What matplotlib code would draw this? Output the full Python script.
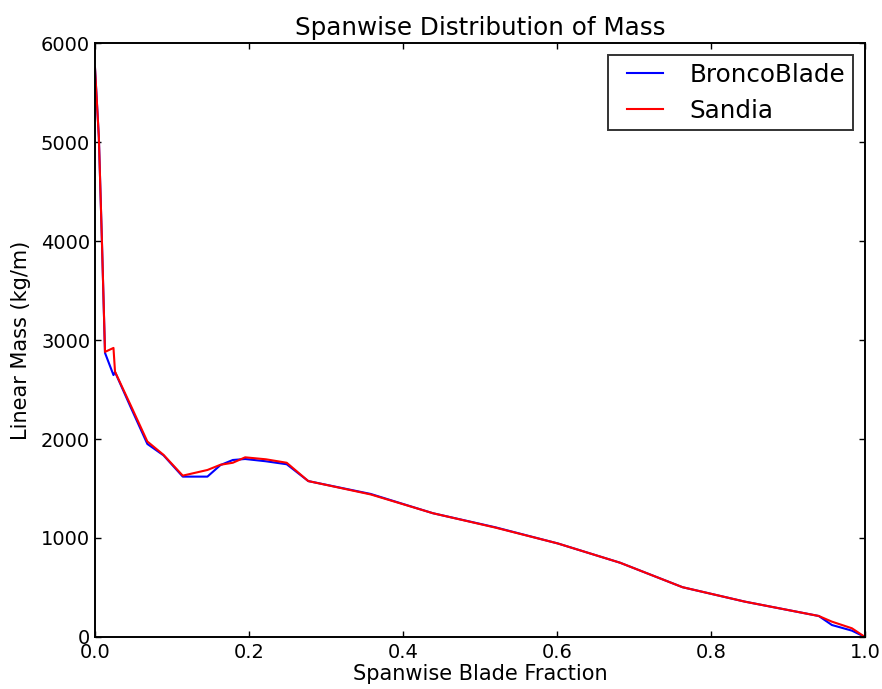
import numpy as np
import matplotlib
matplotlib.use("Agg")
import matplotlib.pyplot as plt
from matplotlib.legend_handler import HandlerLine2D

# spanwise stations (fraction of blade length)
span_bronco = [0.0, 0.005, 0.009, 0.013, 0.024, 0.026, 0.047, 0.068, 0.089, 0.114,
               0.146, 0.163, 0.179, 0.195, 0.222, 0.249, 0.277, 0.358, 0.439, 0.52,
               0.601, 0.682, 0.763, 0.844, 0.94, 0.957, 0.983, 1.0]
mass_bronco = [5750, 5050, 4000, 2870, 2646, 2677, 2310, 1950, 1835, 1620,
               1620, 1737, 1788, 1798, 1775, 1745, 1575, 1445, 1250, 1108,
               945, 750, 503, 357, 212, 121, 64, 0]

span_sandia = [0.0, 0.005, 0.009, 0.013, 0.024, 0.026, 0.047, 0.068, 0.089, 0.114,
               0.146, 0.163, 0.179, 0.195, 0.222, 0.249, 0.277, 0.358, 0.439, 0.52,
               0.601, 0.682, 0.763, 0.844, 0.94, 0.957, 0.983, 1.0]
mass_sandia = [5750, 5050, 4000, 2880, 2920, 2680, 2330, 1975, 1840, 1630,
               1687, 1740, 1760, 1815, 1795, 1760, 1575, 1440, 1250, 1105,
               945, 750, 503, 357, 212, 155, 88, 0]


# legend handle drawn with a little space in front of the line (old mpl look)
class LeadHandler(HandlerLine2D):
    def get_xdata(self, legend, xdescent, ydescent, width, height, fontsize):
        x = np.array([-xdescent + 0.45 * fontsize, -xdescent + width])
        return x, x


fig = plt.figure(figsize=(8.82, 6.89), dpi=100)
ax = fig.add_axes([0.1077, 0.0755, 0.873, 0.862])

l1, = ax.plot(span_bronco, mass_bronco, color="b", lw=1.5, label="BroncoBlade")
l2, = ax.plot(span_sandia, mass_sandia, color="r", lw=1.5, label="Sandia")

ax.set_xlim(0, 1)
ax.set_ylim(0, 6000)
ax.set_xticks(np.arange(0, 1.01, 0.2))
ax.set_yticks(np.arange(0, 6001, 1000))
ax.tick_params(direction="in", top=True, right=True, length=4.5, width=1, labelsize=14)
ax.tick_params(axis="x", pad=4)
ax.tick_params(axis="y", pad=3.5)
for s in ax.spines.values():
    s.set_linewidth(1.4)

ax.set_title("Spanwise Distribution of Mass", fontsize=17.7)
ax.set_xlabel("Spanwise Blade Fraction", fontsize=15, labelpad=2)
ax.set_ylabel("Linear Mass (kg/m)", fontsize=15, labelpad=7)

leg = ax.legend(loc="upper right", fontsize=17.7, fancybox=False, handlelength=1.91,
                handletextpad=1.1, borderpad=0.3, labelspacing=0.5, borderaxespad=0.5,
                handler_map={l1: LeadHandler(), l2: LeadHandler()})
leg.get_frame().set_edgecolor("k")
leg.get_frame().set_linewidth(1.4)

fig.savefig("out.png")
